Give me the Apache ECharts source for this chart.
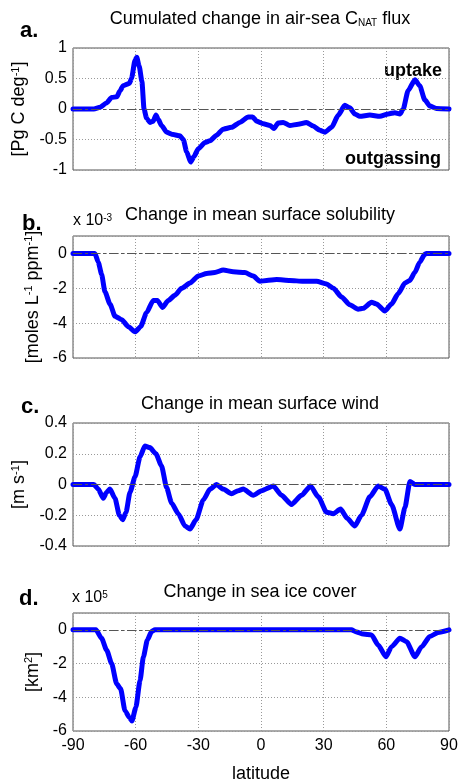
<!DOCTYPE html>
<html>
<head>
    <meta charset="utf-8">
    <title>Air-sea CNAT flux changes</title>
    <script src="https://cdn.jsdelivr.net/npm/echarts@6/dist/echarts.min.js"></script>
    <style>
        html, body { margin: 0; padding: 0; background: #fff; }
    </style>
</head>
<body>
    <div id="main" style="width:461px;height:784px;"></div>
    <script type="text/javascript">
        // values (latitude, value)
        var latA = [-90,-80,-77,-74,-71.5,-69,-67.5,-66,-63,-62,-60.3,-59.5,-58.3,-57,-56,-54.8,-53.2,-51.6,-50.3,-49.2,-47.6,-45.2,-42,-38.8,-37.2,-35.6,-33.7,-32.1,-30,-26.8,-24.4,-21.3,-18.1,-14.1,-10.1,-6.1,-4,-2.1,1.1,4.3,6.2,8.2,10.6,13.8,17.8,21.8,25,28.2,30.6,33.8,37,40.1,42.5,44.9,47.3,52.1,56.9,60.9,64.1,66.5,68.1,70.4,73.7,76,78.4,80.8,84,90];
        var fluxA = [0,0,0.03,0.1,0.19,0.2,0.3,0.38,0.42,0.5,0.8,0.85,0.7,0.45,0.0,-0.15,-0.22,-0.2,-0.1,-0.17,-0.27,-0.38,-0.42,-0.44,-0.5,-0.7,-0.87,-0.78,-0.65,-0.55,-0.52,-0.43,-0.33,-0.3,-0.22,-0.13,-0.13,-0.2,-0.24,-0.27,-0.32,-0.23,-0.22,-0.27,-0.25,-0.22,-0.28,-0.35,-0.38,-0.3,-0.1,0.06,0.02,-0.08,-0.12,-0.1,-0.12,-0.08,-0.06,-0.08,0.0,0.3,0.48,0.38,0.15,0.05,0.01,0];

        var latB = [-90,-79.5,-77.9,-76.3,-74.7,-72.3,-69.9,-66.7,-63.5,-60.3,-57.6,-54.8,-51.6,-49.6,-47.1,-44.4,-41.2,-38,-34,-30,-26,-22.1,-18.1,-13.3,-7.7,-3.7,-0.5,2.7,7.5,13.8,20.2,26.6,31.4,34.6,38.6,42.5,46.5,48.9,52.9,55.3,59.3,62.5,65.7,68.9,71.2,73.6,76,78.4,79.2,90];
        var solB = [0,0,-0.5,-1.2,-2.2,-2.9,-3.6,-3.8,-4.2,-4.5,-4.2,-3.4,-2.7,-2.7,-3.1,-2.7,-2.4,-2.0,-1.7,-1.3,-1.15,-1.1,-0.95,-1.05,-1.1,-1.3,-1.6,-1.55,-1.5,-1.55,-1.6,-1.6,-1.75,-2.0,-2.5,-2.95,-3.2,-3.15,-2.8,-2.9,-3.3,-2.9,-2.3,-1.7,-1.55,-1.1,-0.5,-0.05,0,0];

        var latC = [-90,-80,-77.9,-75.5,-73.9,-72.3,-69.9,-67.8,-66.2,-64.6,-62.7,-60.3,-57.9,-55.6,-53.2,-50.3,-47.6,-45.2,-42.8,-39.6,-36.4,-34,-31.1,-27.6,-24.4,-21.3,-18.1,-14.1,-10.9,-8.5,-3.7,0.3,5.9,9.8,14.6,19.4,23.7,27.4,31.4,34.6,38.1,41.3,44.9,48.1,52.1,56.1,59.3,62.5,66.5,68.9,71.3,73.7,79.2,90];
        var windC = [0,0,-0.03,-0.09,-0.05,-0.03,-0.09,-0.2,-0.23,-0.18,-0.05,0.05,0.18,0.25,0.24,0.2,0.12,-0.02,-0.12,-0.19,-0.27,-0.29,-0.23,-0.1,-0.03,0,-0.03,-0.06,-0.04,-0.03,-0.07,-0.04,-0.01,-0.07,-0.13,-0.07,-0.01,-0.08,-0.18,-0.19,-0.16,-0.22,-0.27,-0.2,-0.08,-0.01,-0.03,-0.13,-0.29,-0.15,0.02,0,0,0];

        var latD = [-90,-79,-76.3,-73.9,-71.5,-69.1,-67.2,-65.1,-63,-61.8,-59.9,-57.9,-56.3,-54.4,-52.4,-50.8,43.3,45.7,48.9,52.9,56.1,59.8,62.5,66.5,69.7,73.7,76.9,80.8,84.8,90];
        var iceD = [0,0,-0.5,-1.2,-2.0,-3.2,-3.5,-4.8,-5.2,-5.4,-4.6,-3.0,-1.6,-0.6,-0.1,0,0,-0.12,-0.25,-0.3,-0.9,-1.6,-1.0,-0.5,-0.7,-1.6,-1.0,-0.4,-0.15,0];

        var latTicks = [-90, -60, -30, 0, 30, 60, 90];

        var font = 'Liberation Sans, Arial, Helvetica, sans-serif';
        var gridTops = [48, 236, 423, 613];
        var gridHeights = [122, 122, 123, 122];

        function pairs(xs, ys) {
            return xs.map(function (x, i) { return [x, ys[i]]; });
        }

        var grids = [], xAxes = [], yAxes = [], series = [];
        var yRanges = [
            {min: -1, max: 1, interval: 0.5},
            {min: -6, max: 1, interval: 2},
            {min: -0.4, max: 0.4, interval: 0.2},
            {min: -6, max: 1, interval: 2}
        ];
        var yNames = [
            '[Pg C deg{sup|-1}]',
            '[moles L{sup|-1} ppm{sup|-1}]',
            '[m s{sup|-1}]',
            '[km{sup|2}]'
        ];
        var nameGaps = [41, 30, 43, 28];
        var lines = [pairs(latA, fluxA), pairs(latB, solB), pairs(latC, windC), pairs(latD, iceD)];

        for (var i = 0; i < 4; i++) {
            grids.push({
                left: 73, right: 12, top: gridTops[i], height: gridHeights[i],
                show: true, borderColor: '#555', borderWidth: 1, backgroundColor: '#fff'
            });
            xAxes.push({
                gridIndex: i, type: 'value', min: -90, max: 90, interval: 30,
                axisLine: {show: false}, axisTick: {show: false},
                axisLabel: {
                    show: i === 3, margin: 7, color: '#000', fontSize: 16, fontFamily: font,
                    formatter: function (v) { return latTicks.indexOf(v) >= 0 ? String(v) : ''; }
                },
                splitLine: {show: true, lineStyle: {color: '#999', type: [1, 2], width: 1}},
                name: i === 3 ? 'latitude' : '', nameLocation: 'middle', nameGap: 34,
                nameTextStyle: {color: '#000', fontSize: 18, fontFamily: font}
            });
            yAxes.push({
                gridIndex: i, type: 'value',
                min: yRanges[i].min, max: yRanges[i].max, interval: yRanges[i].interval,
                axisLine: {show: false}, axisTick: {show: false},
                axisLabel: {color: '#000', fontSize: 16, fontFamily: font, margin: 6, showMaxLabel: i === 0 || i === 2},
                splitLine: {show: true, lineStyle: {color: '#999', type: [1, 2], width: 1}},
                name: yNames[i], nameLocation: 'middle', nameRotate: 90, nameGap: nameGaps[i],
                nameTextStyle: {
                    color: '#000', fontSize: 18, fontFamily: font,
                    rich: {sup: {fontSize: 11, verticalAlign: 'top', color: '#000', fontFamily: font}}
                }
            });
            // zero reference line, drawn under the curve
            series.push({
                type: 'line', xAxisIndex: i, yAxisIndex: i, data: [], z: 1, silent: true,
                markLine: {
                    silent: true, symbol: 'none', label: {show: false},
                    lineStyle: {color: '#555', type: [9, 3, 3, 3], width: 1},
                    data: [{yAxis: 0}]
                }
            });
            series.push({
                type: 'line', xAxisIndex: i, yAxisIndex: i, z: 3,
                data: lines[i], showSymbol: false, symbol: 'none',
                smooth: 0.2, smoothMonotone: 'x',
                lineStyle: {color: '#0000ff', width: 5, cap: 'round', join: 'round'},
                itemStyle: {color: '#0000ff'},
                animation: false
            });
        }

        var titleStyle = {
            color: '#000', fontSize: 18, fontWeight: 'normal', fontFamily: font,
            rich: {sub: {fontSize: 10, verticalAlign: 'bottom', color: '#000', fontFamily: font}}
        };
        var titles = [
            {text: 'Cumulated change in air-sea C{sub|NAT} flux', top: 10},
            {text: 'Change in mean surface solubility', top: 206},
            {text: 'Change in mean surface wind', top: 395},
            {text: 'Change in sea ice cover', top: 583}
        ].map(function (t) {
            return {text: t.text, left: 260, top: t.top, textAlign: 'center', padding: 0, textStyle: titleStyle};
        });

        function label(text, x, y, size, bold, align) {
            return {
                type: 'text', left: x, top: y, silent: true,
                style: {
                    text: text, fill: '#000', align: align || 'left', verticalAlign: 'middle',
                    font: (bold ? 'bold ' : '') + size + 'px ' + font,
                    rich: {sup: {fontSize: 10, verticalAlign: 'top', fill: '#000', fontFamily: font}}
                }
            };
        }

        var chart = echarts.init(document.getElementById('main'), null, {renderer: 'canvas'});
        chart.setOption({
            animation: false,
            backgroundColor: '#fff',
            title: titles,
            grid: grids,
            xAxis: xAxes,
            yAxis: yAxes,
            series: series,
            graphic: [
                label('a.', 20, 20, 22, true),
                label('b.', 22, 213, 22, true),
                label('c.', 21, 396, 22, true),
                label('d.', 19, 588, 22, true),
                label('x 10{sup|-3}', 73, 213, 16, false),
                label('x 10{sup|5}', 72, 590, 16, false),
                label('uptake', 384, 62, 18, true),
                label('outgassing', 345, 150, 18, true)
            ]
        });
    </script>
</body>
</html>
